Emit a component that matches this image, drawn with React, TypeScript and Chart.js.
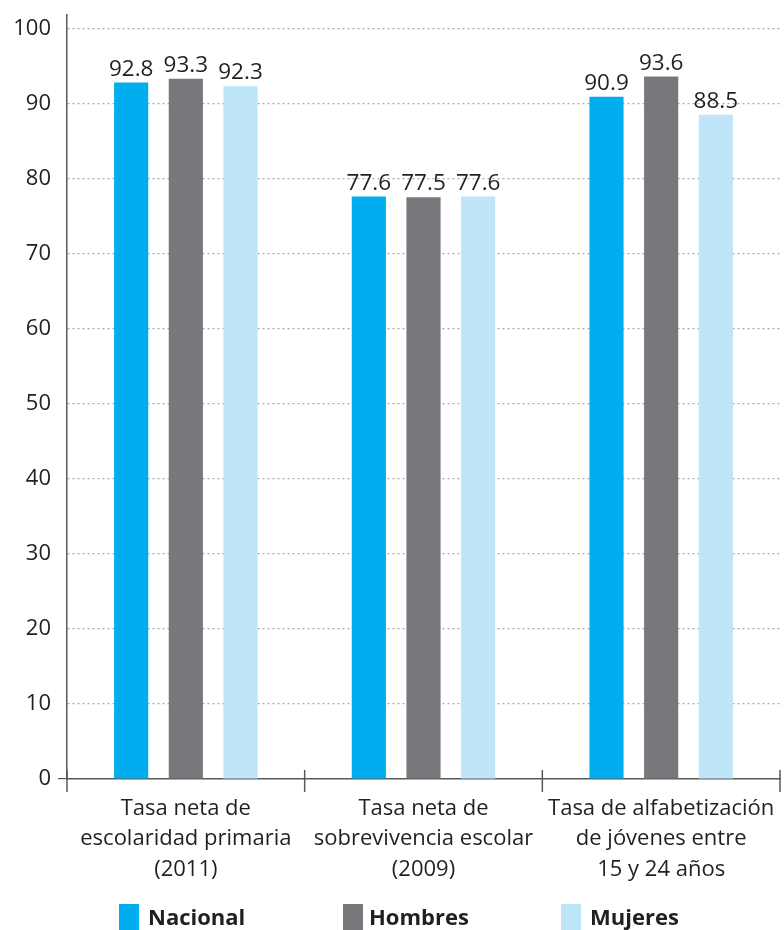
import React, { useEffect, useRef } from "react";
import { Chart, registerables } from "chart.js";

Chart.register(...registerables);

const categories: string[][] = [
  ["Tasa neta de", "escolaridad primaria", "(2011)"],
  ["Tasa neta de", "sobrevivencia escolar", "(2009)"],
  ["Tasa de alfabetización", "de jóvenes entre", "15 y 24 años"],
];
const seriesNames = ["Nacional", "Hombres", "Mujeres"];
const nacional = [92.8, 77.6, 90.9];
const hombres = [93.3, 77.5, 93.6];
const mujeres = [92.3, 77.6, 88.5];
const seriesColors = ["#00AEEF", "#77787B", "#BEE5F8"];
const yMin = 0;
const yMax = 101.8;
const yStep = 10;

const FONT = "'Open Sans', 'Noto Sans', sans-serif";
const TEXT = "#231F20";

const valueLabels = {
  id: "valueLabels",
  afterDatasetsDraw(chart: any) {
    const ctx = chart.ctx;
    ctx.save();
    ctx.font = `22.5px ${FONT}`;
    ctx.fillStyle = TEXT;
    ctx.textAlign = "center";
    ctx.textBaseline = "alphabetic";
    chart.data.datasets.forEach((ds: any, di: number) => {
      const meta = chart.getDatasetMeta(di);
      meta.data.forEach((el: any, i: number) => {
        ctx.fillText(ds.data[i].toFixed(1), el.x, el.y - 7);
      });
    });
    ctx.restore();
  },
};

const axisMarks = {
  id: "axisMarks",
  afterDraw(chart: any) {
    const { ctx, chartArea } = chart;
    const n = categories.length;
    const w = (chartArea.right - chartArea.left) / n;
    ctx.save();
    ctx.strokeStyle = "#58595B";
    ctx.lineWidth = 1.5;
    for (let i = 0; i <= n; i++) {
      const x = chartArea.left + i * w;
      ctx.beginPath();
      ctx.moveTo(x, chartArea.bottom - 9);
      ctx.lineTo(x, chartArea.bottom + 13);
      ctx.stroke();
    }
    ctx.restore();
  },
};

export default function App() {
  const canvasRef = useRef<HTMLCanvasElement | null>(null);

  useEffect(() => {
    if (!canvasRef.current) return;
    const data = [nacional, hombres, mujeres];
    const chart = new Chart(canvasRef.current, {
      type: "bar",
      data: {
        labels: categories,
        datasets: seriesNames.map((name, i) => ({
          label: name,
          data: data[i],
          backgroundColor: seriesColors[i],
          borderWidth: 0,
          categoryPercentage: 0.69,
          barPercentage: 0.625,
        })),
      },
      options: {
        animation: false,
        responsive: true,
        maintainAspectRatio: false,
        layout: { padding: { left: 0, right: 4, top: 15, bottom: 0 } },
        plugins: {
          legend: { display: false },
          tooltip: { enabled: false },
        },
        scales: {
          x: {
            grid: { display: false, drawTicks: false },
            border: { display: true, color: "#58595B", width: 1.5 },
            ticks: {
              color: TEXT,
              font: { family: FONT, size: 22, lineHeight: 1.4 },
              padding: 14,
              maxRotation: 0,
              autoSkip: false,
            },
            afterFit(scale: any) {
              scale.height = 151;
              scale.paddingLeft = 0;
              scale.paddingRight = 0;
            },
          },
          y: {
            min: yMin,
            max: yMax,
            ticks: {
              stepSize: yStep,
              includeBounds: false,
              color: TEXT,
              font: { family: FONT, size: 22 },
              padding: 7,
            },
            grid: {
              color: (c: any) => (c.tick && c.tick.value === 0 ? "rgba(0,0,0,0)" : "#A7A9AC"),
              tickColor: (c: any) => (c.tick && c.tick.value === 0 ? "#58595B" : "rgba(0,0,0,0)"),
              tickLength: 9,
              lineWidth: 1.2,
            },
            border: { display: true, color: "#58595B", width: 1.5, dash: [2, 3] as any },
            afterFit(scale: any) {
              scale.width = 67;
              scale.paddingTop = 0;
              scale.paddingBottom = 0;
            },
          },
        },
      },
      plugins: [valueLabels, axisMarks],
    } as any);
    return () => chart.destroy();
  }, []);

  const legendItems = [
    { left: 119, textLeft: 148 },
    { left: 343, textLeft: 369 },
    { left: 561, textLeft: 590 },
  ];

  return (
    <div style={{ position: "fixed", left: 0, top: 0, width: 784, height: 930, background: "#fff" }}>
      <canvas ref={canvasRef} />
      {seriesNames.map((name, i) => (
        <React.Fragment key={name}>
          <div
            style={{
              position: "absolute",
              left: legendItems[i].left,
              top: 904,
              width: 20,
              height: 26,
              background: seriesColors[i],
            }}
          />
          <div
            style={{
              position: "absolute",
              left: legendItems[i].textLeft,
              top: 898,
              fontFamily: FONT,
              fontWeight: 700,
              fontSize: 22,
              lineHeight: "36px",
              color: TEXT,
              whiteSpace: "nowrap",
            }}
          >
            {name}
          </div>
        </React.Fragment>
      ))}
    </div>
  );
}
